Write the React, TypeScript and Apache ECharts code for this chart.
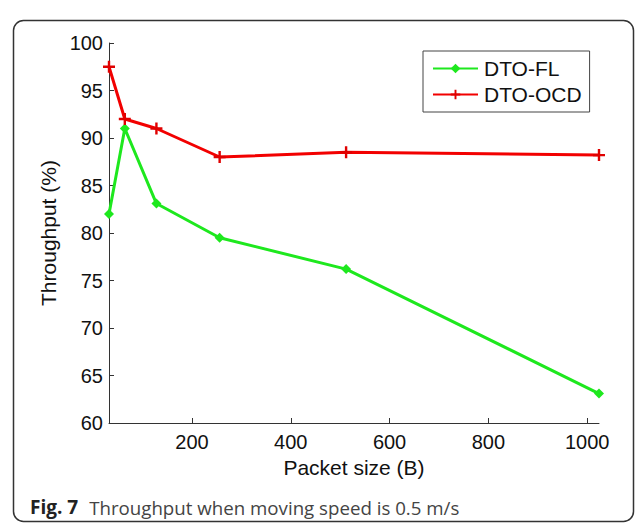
import React, { useEffect, useRef } from "react";
import * as echarts from "echarts";

const packetSizes = [32, 64, 128, 256, 512, 1024];
const dtoFL = [82.0, 91.0, 83.1, 79.5, 76.2, 63.1];
const dtoOCD = [97.5, 92.0, 91.0, 88.0, 88.5, 88.2];
const xTicks = [200, 400, 600, 800, 1000];
const seriesNames = ["DTO-FL", "DTO-OCD"];

const FONT = "Liberation Sans";
const PLUS = "path://M4,0H6V4H10V6H6V10H4V6H0V4H4Z";

export default function App() {
  const ref = useRef<HTMLDivElement>(null);
  useEffect(() => {
    if (!ref.current) return;
    const chart = echarts.init(ref.current, null, { renderer: "svg" });
    chart.setOption({
      animation: false,
      backgroundColor: "#ffffff",
      textStyle: { fontFamily: FONT },
      grid: { left: 109, top: 43, width: 490, height: 380, containLabel: false },
      xAxis: {
        type: "value",
        min: 32,
        max: 1024,
        name: "Packet size (B)",
        nameLocation: "middle",
        nameGap: 33,
        nameTextStyle: { fontFamily: FONT, fontSize: 21, color: "#111" },
        axisLine: { show: true, lineStyle: { color: "#333", width: 1 } },
        axisTick: { show: true, inside: true, length: 5, customValues: xTicks, lineStyle: { color: "#333" } },
        axisLabel: {
          customValues: xTicks,
          formatter: (v: number) => String(v),
          fontFamily: FONT,
          fontSize: 20,
          color: "#111",
          margin: 9,
        },
        splitLine: { show: false },
      },
      yAxis: {
        type: "value",
        min: 60,
        max: 100,
        interval: 5,
        name: "Throughput (%)",
        nameLocation: "middle",
        nameGap: 50,
        nameTextStyle: { fontFamily: FONT, fontSize: 21, color: "#111" },
        axisLine: { show: true, lineStyle: { color: "#333", width: 1 } },
        axisTick: { show: true, inside: true, length: 5, lineStyle: { color: "#333" } },
        axisLabel: { fontFamily: FONT, fontSize: 20, color: "#111", margin: 6 },
        splitLine: { show: false },
      },
      legend: {
        orient: "vertical",
        left: 423,
        top: 51,
        width: 170,
        padding: [7, 8, 7, 9],
        itemGap: 5,
        itemWidth: 45,
        itemHeight: 12,
        borderColor: "#444",
        borderWidth: 1,
        backgroundColor: "#fff",
        borderRadius: 0,
        data: seriesNames,
        textStyle: { fontFamily: FONT, fontSize: 21, color: "#111", padding: [0, 0, 0, 1] },
      },
      series: [
        {
          name: seriesNames[0],
          type: "line",
          data: packetSizes.map((x, i) => [x, dtoFL[i]]),
          symbol: "diamond",
          symbolSize: 10,
          clip: false,
          lineStyle: { color: "#1ee81e", width: 3 },
          itemStyle: { color: "#1ee81e" },
        },
        {
          name: seriesNames[1],
          type: "line",
          data: packetSizes.map((x, i) => [x, dtoOCD[i]]),
          symbol: PLUS,
          symbolSize: 12,
          clip: false,
          lineStyle: { color: "#f20000", width: 3 },
          itemStyle: { color: "#e00000" },
        },
      ],
      graphic: [
        {
          type: "rect",
          shape: { x: 13.5, y: 20.5, width: 620, height: 501, r: 10 },
          style: { fill: "none", stroke: "#333", lineWidth: 1.5 },
          silent: true,
        },
        {
          type: "text",
          x: 30,
          y: 507,
          style: {
            text: "{b|Fig. 7}{n|Throughput when moving speed is 0.5 m/s}",
            verticalAlign: "middle",
            rich: {
              b: { fontFamily: "Open Sans", fontWeight: "bold", fontSize: 19, fill: "#222" },
              n: { fontFamily: "Open Sans", fontSize: 18.7, fill: "#444", padding: [0, 0, 0, 11] },
            },
          },
        },
      ],
    });
    return () => chart.dispose();
  }, []);
  return (
    <div style={{ position: "fixed", left: 0, top: 0, width: 637, height: 524 }}>
      <div ref={ref} style={{ width: 637, height: 524 }} />
    </div>
  );
}
